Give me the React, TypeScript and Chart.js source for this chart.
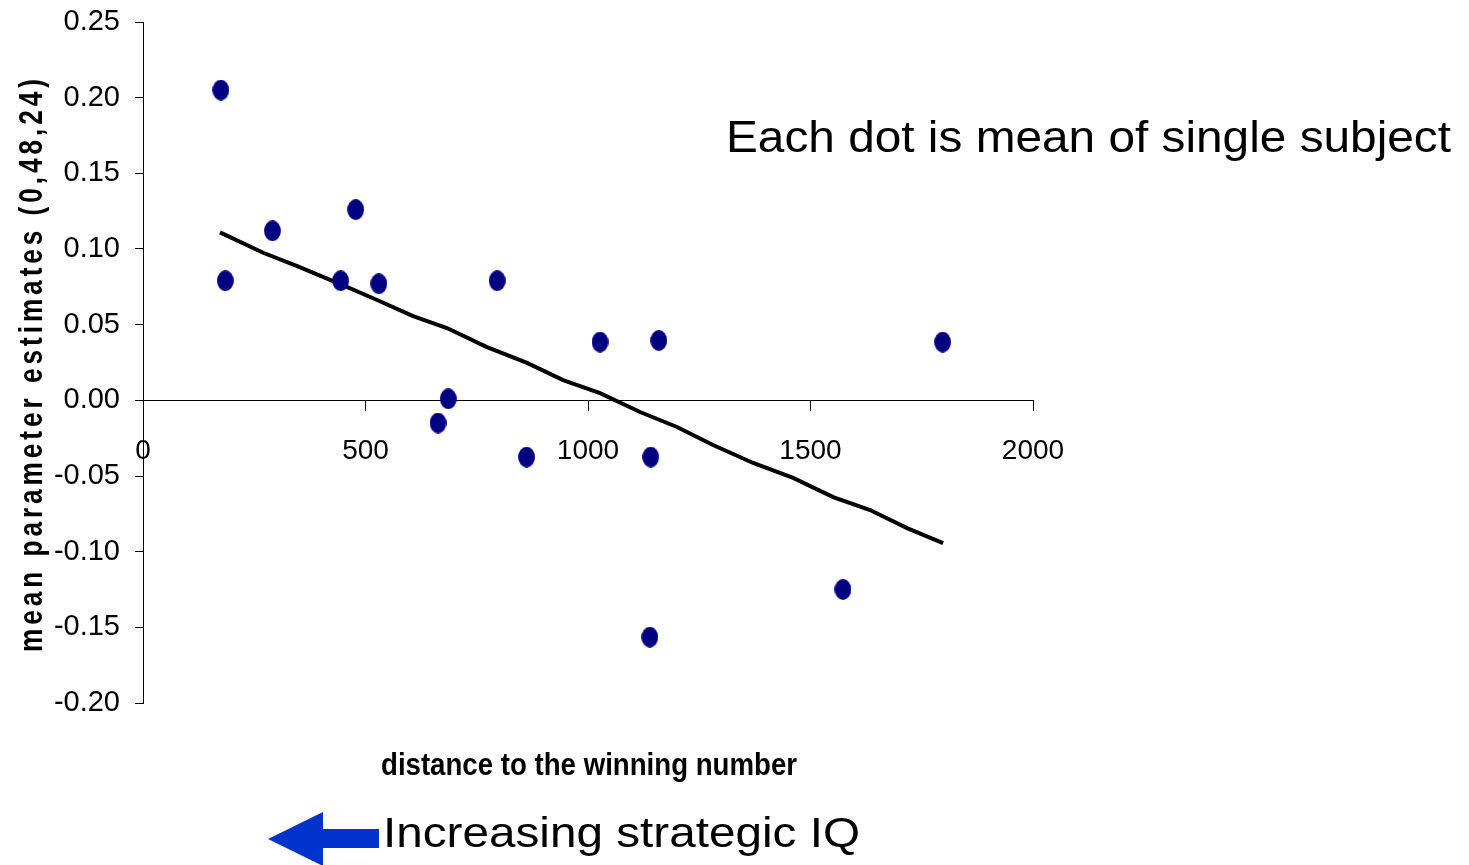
import React, { useEffect, useRef } from "react";
import { Chart, registerables } from "chart.js";

Chart.register(...registerables);

// Subject means: distance to winning number (x) vs mean parameter estimate (y)
const distance = [175, 185, 291, 478, 444, 530, 796, 686, 663, 1027, 1159, 1797, 1141, 862, 1573, 1139];
const estimate = [0.205, 0.079, 0.112, 0.126, 0.079, 0.077, 0.079, 0.001, -0.015, 0.0385, 0.0395, 0.0385, -0.0375, -0.0375, -0.125, -0.1565];

// Trend line vertices
const trendX = [173, 270, 348, 458, 526, 607, 683, 773, 863, 944, 1027, 1117, 1200, 1281, 1371, 1461, 1551, 1634, 1717, 1798];
const trendY = [0.111, 0.0975, 0.0885, 0.075, 0.0663, 0.0557, 0.0478, 0.0352, 0.0247, 0.0134, 0.0048, -0.0077, -0.0176, -0.0295, -0.0414, -0.0513, -0.0639, -0.0725, -0.0844, -0.0943];

const yMin = -0.2;
const yMax = 0.25;
const yStep = 0.05;
const xMin = 0;
const xMax = 2000;
const xStep = 500;

const yTitle = "mean parameter estimates (0,48,24)";
const xTitle = "distance to the winning number";
const note = "Each dot is mean of single subject";
const arrowLabel = "Increasing strategic IQ";

const FONT = "'Liberation Sans', Arial, sans-serif";

function makeDot(): HTMLCanvasElement {
  const c = document.createElement("canvas");
  c.width = 17;
  c.height = 21;
  const ctx = c.getContext("2d")!;
  ctx.fillStyle = "#000080";
  ctx.beginPath();
  ctx.ellipse(8.5, 10.5, 8.4, 10.4, 0, 0, Math.PI * 2);
  ctx.fill();
  return c;
}

function fitText(
  ctx: CanvasRenderingContext2D,
  text: string,
  font: string,
  x: number,
  baseline: number,
  width: number,
  spacing = "0px"
) {
  ctx.save();
  ctx.font = font;
  (ctx as any).letterSpacing = spacing;
  ctx.textAlign = "left";
  ctx.textBaseline = "alphabetic";
  const w = ctx.measureText(text).width;
  ctx.translate(x, baseline);
  ctx.scale(width / w, 1);
  ctx.fillStyle = "#000";
  ctx.fillText(text, 0, 0);
  ctx.restore();
}

const decorPlugin = {
  id: "decor",
  afterDraw(chart: any) {
    const ctx: CanvasRenderingContext2D = chart.ctx;
    // Y title (rotated, spaced)
    ctx.save();
    ctx.translate(42, 363.5);
    ctx.rotate(-Math.PI / 2);
    ctx.font = `bold 33px ${FONT}`;
    (ctx as any).letterSpacing = "5px";
    ctx.textAlign = "left";
    ctx.textBaseline = "alphabetic";
    const w = ctx.measureText(yTitle).width;
    const target = 577;
    ctx.scale(target / w, 1);
    ctx.fillStyle = "#000";
    ctx.fillText(yTitle, -w / 2, 0);
    ctx.restore();

    fitText(ctx, xTitle, `bold 31px ${FONT}`, 381, 775, 416);
    fitText(ctx, note, `44px ${FONT}`, 726, 152, 725);
    fitText(ctx, arrowLabel, `43px ${FONT}`, 383, 847, 477);

    // Arrow
    ctx.save();
    ctx.fillStyle = "#0033CC";
    ctx.beginPath();
    ctx.moveTo(268, 839);
    ctx.lineTo(323, 812);
    ctx.lineTo(323, 829);
    ctx.lineTo(379, 829);
    ctx.lineTo(379, 848);
    ctx.lineTo(323, 848);
    ctx.lineTo(323, 866);
    ctx.closePath();
    ctx.fill();
    ctx.restore();
  },
};

export default function App() {
  const ref = useRef<HTMLCanvasElement>(null);

  useEffect(() => {
    if (!ref.current) return;
    const dot = makeDot();
    const chart = new Chart(ref.current, {
      type: "scatter",
      data: {
        datasets: [
          {
            label: "trend",
            data: trendX.map((x, i) => ({ x, y: trendY[i] })),
            showLine: true,
            borderColor: "#000",
            borderWidth: 4,
            pointRadius: 0,
            tension: 0,
            order: 2,
          },
          {
            label: "subjects",
            data: distance.map((x, i) => ({ x, y: estimate[i] })),
            pointStyle: dot as any,
            backgroundColor: "#000080",
            borderWidth: 0,
            order: 1,
          },
        ],
      },
      options: {
        responsive: false,
        animation: false,
        layout: { padding: { left: 0, top: 22, right: 436, bottom: 162 } },
        plugins: {
          legend: { display: false },
          tooltip: { enabled: false },
        },
        scales: {
          x: {
            type: "linear",
            min: xMin,
            max: xMax,
            position: { y: 0 } as any,
            afterFit: (scale: any) => {
              scale.paddingLeft = 0;
              scale.paddingRight = 0;
              scale.paddingTop = 0;
              scale.paddingBottom = 0;
            },
            grid: {
              drawOnChartArea: false,
              drawTicks: true,
              tickLength: 10,
              color: "#000",
            },
            border: { display: true, color: "#000", width: 1 },
            ticks: {
              stepSize: xStep,
              color: "#000",
              padding: 24,
              font: { family: FONT, size: 28 },
              maxRotation: 0,
              callback: (v: any) => String(Math.round(Number(v))),
            },
          },
          y: {
            type: "linear",
            min: yMin,
            max: yMax,
            afterFit: (scale: any) => {
              scale.width = 143;
              scale.paddingTop = 0;
              scale.paddingBottom = 0;
            },
            grid: {
              drawOnChartArea: false,
              drawTicks: true,
              tickLength: 8,
              color: "#000",
            },
            border: { display: true, color: "#000", width: 1 },
            ticks: {
              stepSize: yStep,
              color: "#000",
              padding: 15,
              font: { family: FONT, size: 29 },
              callback: (v: any) => {
                const n = Number(v);
                return Math.abs(n) < 1e-9 ? "0.00" : n.toFixed(2);
              },
            },
          },
        },
      },
      plugins: [decorPlugin],
    });
    return () => chart.destroy();
  }, []);

  return (
    <div style={{ position: "fixed", left: 0, top: 0, width: 1469, height: 865, background: "#fff" }}>
      <canvas ref={ref} width={1469} height={865} style={{ display: "block" }} />
    </div>
  );
}
